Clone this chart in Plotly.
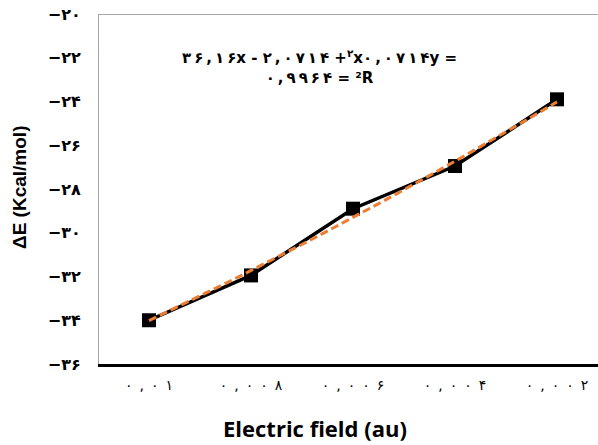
import plotly.graph_objects as go
import numpy as np

# ---- data ----
categories = ["0.01", "0.008", "0.006", "0.004", "0.002"]
energy = [-34.0, -31.95, -28.9, -26.95, -23.9]
trend_coef = [0.0714, 2.0714, -36.16]   # y = a x^2 + b x + c (from chart label)
y_tick_values = [-36, -34, -32, -30, -28, -26, -24, -22, -20]
equation_line1 = "۳۶,۱۶x - ۲,۰۷۱۴ +<sup>۲</sup>x۰,۰۷۱۴y ="
equation_line2 = "۰,۹۹۶۴ = ²R"

FA = str.maketrans("0123456789.-", "۰۱۲۳۴۵۶۷۸۹,−")
FA_CHARS = set("۰۱۲۳۴۵۶۷۸۹,")


def fa(s):
    return str(s).translate(FA)


def spaced(s, sep="\u2009"):
    out = ""
    for i, ch in enumerate(s):
        out += ch
        if i + 1 < len(s) and ch in FA_CHARS and s[i + 1] in FA_CHARS:
            out += sep
    return out


x_idx = list(range(len(categories)))
x_tick_text = ["\u2002".join(fa(c)) for c in categories]
y_tick_text = ["<b>" + fa(v) + "</b>" for v in y_tick_values]

# trendline (Excel polynomial order 2), x is 1-based category index
t = np.linspace(1, len(categories), 60)
trend_y = np.polyval(trend_coef, t)

fig = go.Figure()
# plot-area frame (left + top edge) drawn on a hidden 0..1 overlay axis
fig.add_trace(go.Scatter(
    x=[0, 0, 1], y=[0, 1, 1], mode="lines", xaxis="x2", yaxis="y2",
    line=dict(color="#a6a6a6", width=2), cliponaxis=False,
    showlegend=False, hoverinfo="skip",
))
fig.add_trace(go.Scatter(
    x=x_idx, y=energy, mode="lines+markers",
    line=dict(color="black", width=3.5),
    marker=dict(symbol="square", size=14, color="black"),
    showlegend=False, cliponaxis=False,
))
fig.add_trace(go.Scatter(
    x=t - 1, y=trend_y, mode="lines",
    line=dict(color="#ED7D31", width=3, dash="8px,4px"),
    showlegend=False,
))

fig.update_layout(
    width=598, height=445,
    margin=dict(l=98, r=0, t=14, b=81),
    plot_bgcolor="white", paper_bgcolor="white",
    xaxis=dict(
        range=[-0.5, 4.402], automargin=False,
        tickvals=x_idx, ticktext=x_tick_text,
        showgrid=False, zeroline=False,
        showline=True, linecolor="black", linewidth=2.5,
        ticks="outside", ticklen=6, tickcolor="rgba(0,0,0,0)",
        tickfont=dict(family="DejaVu Sans", size=14, color="black"),
    ),
    yaxis=dict(
        range=[-36, -20], automargin=False,
        tickvals=y_tick_values, ticktext=y_tick_text,
        showgrid=False, zeroline=False, showline=False,
        ticks="outside", ticklen=13, tickcolor="rgba(0,0,0,0)",
        tickfont=dict(family="DejaVu Sans", size=16, color="black"),
    ),
    xaxis2=dict(overlaying="x", range=[0, 1], visible=False, automargin=False),
    yaxis2=dict(overlaying="y", range=[0, 1], visible=False, automargin=False),
    annotations=[
        dict(text="<b>" + spaced(equation_line1) + "<br>" + spaced(equation_line2) + "</b>",
             xref="paper", yref="paper", x=(319 - 98) / 500, y=(364 - 67) / 350,
             showarrow=False, align="center", xanchor="center", yanchor="middle",
             font=dict(family="DejaVu Sans", size=15, color="black")),
        dict(text="<b>Electric field (au)</b>", xref="paper", yref="paper",
             x=(315 - 98) / 500, y=(364 - 428) / 350,
             showarrow=False, xanchor="center", yanchor="middle",
             font=dict(family="Open Sans", size=22, color="black")),
        dict(text="<b>ΔE (Kcal/mol)</b>", xref="paper", yref="paper",
             x=(19 - 98) / 500, y=(364 - 188) / 350, textangle=-90,
             showarrow=False, xanchor="center", yanchor="middle",
             font=dict(family="Liberation Sans", size=19, color="black")),
    ],
)

fig.write_html("out.html", config={"displayModeBar": False},
               post_script="document.body.style.margin='0';")
